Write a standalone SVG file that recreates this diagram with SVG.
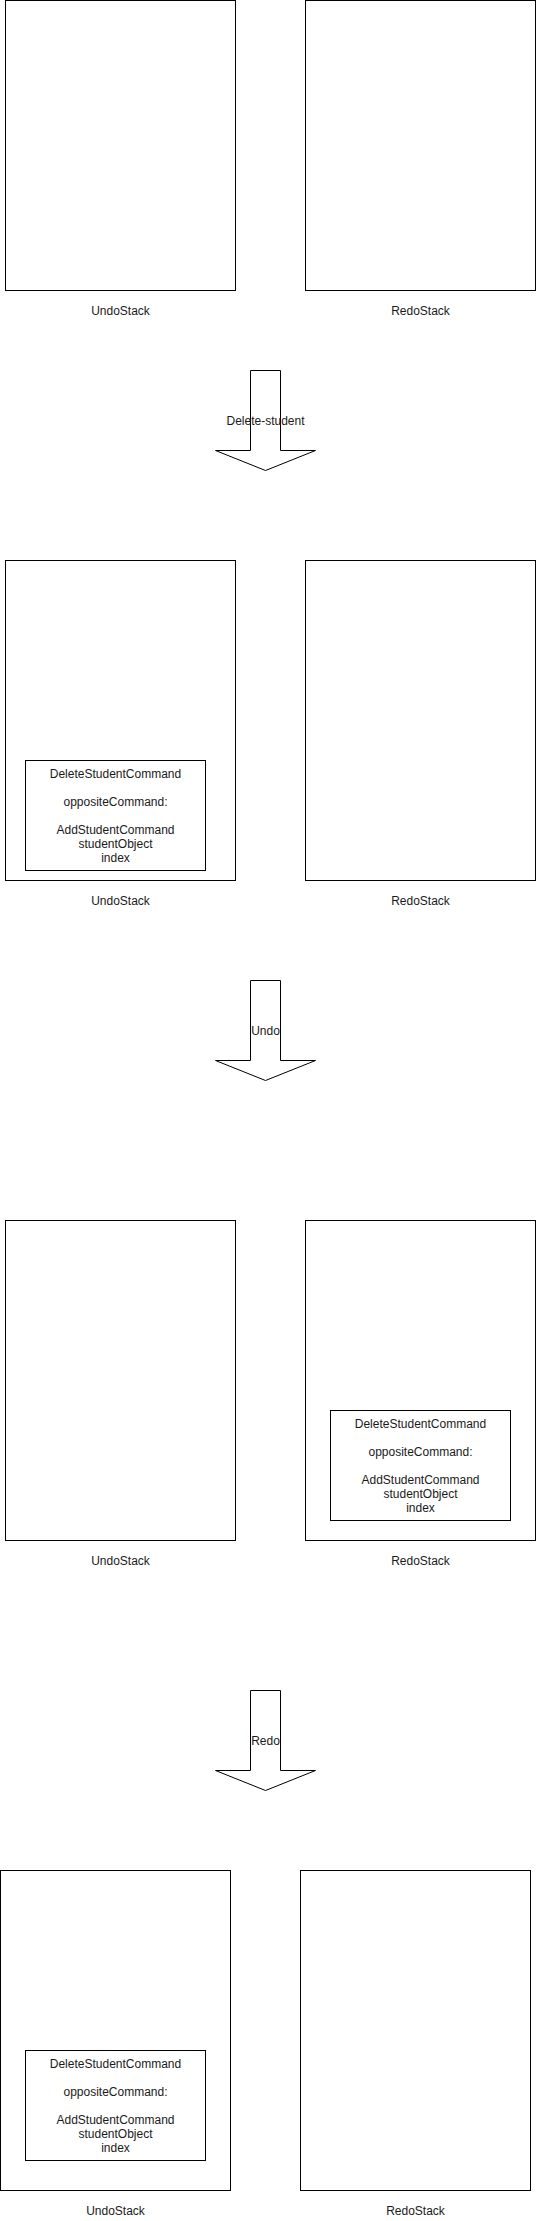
<svg xmlns="http://www.w3.org/2000/svg" width="536" height="2221" viewBox="0 0 536 2221">
<style>
.box{fill:#fff;stroke:#000;stroke-width:1}
.arrow{fill:#fff;stroke:#000;stroke-width:1;stroke-linejoin:miter}
text{font-family:"Liberation Sans",Arial,Helvetica,sans-serif;font-size:12px;fill:#1a1a1a;text-anchor:middle}
</style>
<rect width="536" height="2221" fill="#fff"/>
<g id="undo1"><rect class="box" x="5.5" y="0.5" width="230" height="290"/><text x="120.5" y="315">UndoStack</text></g>
<g id="redo1"><rect class="box" x="305.5" y="0.5" width="230" height="290"/><text x="420.5" y="315">RedoStack</text></g>
<g id="connectors">
<g id="arrow1"><polygon class="arrow" points="250.5,370.5 280.5,370.5 280.5,450.5 315.5,450.5 265.5,470.5 215.5,450.5 250.5,450.5"/><text x="265.5" y="425">Delete-student</text></g>
<g id="arrow2"><polygon class="arrow" points="250.5,980.5 280.5,980.5 280.5,1060.5 315.5,1060.5 265.5,1080.5 215.5,1060.5 250.5,1060.5"/><text x="265.5" y="1035">Undo</text></g>
<g id="arrow3"><polygon class="arrow" points="250.5,1690.5 280.5,1690.5 280.5,1770.5 315.5,1770.5 265.5,1790.5 215.5,1770.5 250.5,1770.5"/><text x="265.5" y="1745">Redo</text></g>
</g>
<g id="undo2"><rect class="box" x="5.5" y="560.5" width="230" height="320"/><text x="120.5" y="905">UndoStack</text></g>
<g id="redo2"><rect class="box" x="305.5" y="560.5" width="230" height="320"/><text x="420.5" y="905">RedoStack</text></g>
<g id="cmd2"><rect class="box" x="25.5" y="760.5" width="180" height="110"/>
<text x="115.5" y="778">DeleteStudentCommand</text><text x="115.5" y="806">oppositeCommand:</text><text x="115.5" y="834">AddStudentCommand</text><text x="115.5" y="848">studentObject</text><text x="115.5" y="862">index</text></g>
<g id="undo3"><rect class="box" x="5.5" y="1220.5" width="230" height="320"/><text x="120.5" y="1565">UndoStack</text></g>
<g id="redo3"><rect class="box" x="305.5" y="1220.5" width="230" height="320"/><text x="420.5" y="1565">RedoStack</text></g>
<g id="cmd3"><rect class="box" x="330.5" y="1410.5" width="180" height="110"/>
<text x="420.5" y="1428">DeleteStudentCommand</text><text x="420.5" y="1456">oppositeCommand:</text><text x="420.5" y="1484">AddStudentCommand</text><text x="420.5" y="1498">studentObject</text><text x="420.5" y="1512">index</text></g>
<g id="undo4"><rect class="box" x="0.5" y="1870.5" width="230" height="320"/><text x="115.5" y="2215">UndoStack</text></g>
<g id="redo4"><rect class="box" x="300.5" y="1870.5" width="230" height="320"/><text x="415.5" y="2215">RedoStack</text></g>
<g id="cmd4"><rect class="box" x="25.5" y="2050.5" width="180" height="110"/>
<text x="115.5" y="2068">DeleteStudentCommand</text><text x="115.5" y="2096">oppositeCommand:</text><text x="115.5" y="2124">AddStudentCommand</text><text x="115.5" y="2138">studentObject</text><text x="115.5" y="2152">index</text></g>
</svg>
